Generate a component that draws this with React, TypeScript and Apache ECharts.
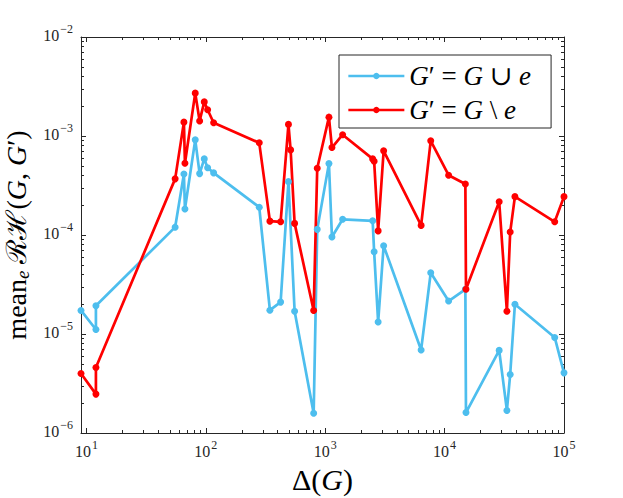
import { useEffect, useRef } from "react";
import * as echarts from "echarts";

// Δ(G) values (shared x positions)
const deltaG = [
  9, 12, 12, 55.3, 65.5, 66.8, 81.5, 88.7, 97, 103.5, 116.2,
  280, 344, 423, 492, 513, 554,
  800, 857, 1074, 1138, 1399,
  2496, 2568, 2775, 3085,
  6357, 7650, 10800, 14920, 15100,
  28640, 33240, 35420, 38800,
  83600, 100000,
];

// mean_e RH(G, G') for G' = G ∪ e (null = no visible point)
const rhUnion = [
  1.73e-5, 1.11e-5, 1.93e-5, 1.2e-4, 4.14e-4, 1.83e-4, 9.14e-4, 4.17e-4, 5.87e-4, 4.77e-4, 4.24e-4,
  1.91e-4, 1.74e-5, 2.1e-5, 3.46e-4, null, 1.7e-5,
  1.58e-6, 1.14e-4, 5.26e-4, 9.55e-5, 1.44e-4,
  1.39e-4, 6.78e-5, 1.32e-5, 7.8e-5,
  6.9e-6, 4.16e-5, 2.15e-5, 2.83e-5, 1.61e-6,
  6.83e-6, 1.69e-6, 3.9e-6, 2.0e-5,
  9.23e-6, 4.05e-6,
];

// mean_e RH(G, G') for G' = G \ e
const rhMinus = [
  3.99e-6, 2.47e-6, 4.59e-6, 3.69e-4, 1.38e-3, 5.31e-4, 2.71e-3, 1.42e-3, 2.21e-3, 1.84e-3, 1.36e-3,
  8.53e-4, 1.38e-4, 1.36e-4, 1.31e-3, 7.24e-4, 1.31e-4,
  1.73e-5, 4.73e-4, 1.55e-3, 7.64e-4, 1.03e-3,
  5.87e-4, 5.57e-4, 1.1e-4, 7.08e-4,
  1.25e-4, 8.93e-4, 4.02e-4, 3.28e-4, 2.83e-5,
  2.17e-4, 1.7e-5, 1.07e-4, 2.44e-4,
  1.36e-4, 2.44e-4,
];

const seriesNames = ["G′ = G ∪ e", "G′ = G \\ e"];
const xTickExponents = [1, 2, 3, 4, 5];
const yTickExponents = [-6, -5, -4, -3, -2];
const minorMultipliers = [2, 3, 4, 5, 6, 7, 8, 9];
const xRange = [9, 100000];
const yRange = [1e-6, 1e-2];

const FONT = "'Liberation Serif', 'DejaVu Serif', serif";
const AXIS_COLOR = "#262626";
const BLUE = "#4DBEEE";
const RED = "#FF0000";

function minorLogValues(range: number[]) {
  const out: number[] = [];
  const k0 = Math.floor(Math.log10(range[0]));
  const k1 = Math.ceil(Math.log10(range[1]));
  for (let k = k0; k <= k1; k++) {
    for (const m of minorMultipliers) {
      const v = m * Math.pow(10, k);
      if (v >= range[0] - 1e-12 && v <= range[1] + 1e-12) out.push(Math.log10(v));
    }
  }
  return out;
}

function powLabel(exps: number[]) {
  return (v: number) => {
    const e = Math.log10(v);
    const r = Math.round(e);
    if (Math.abs(e - r) > 1e-6 || exps.indexOf(r) < 0) return "";
    return `{b|10}{s|${r < 0 ? "\u2212" + -r : r}}`;
  };
}

const tickRich = {
  b: { fontFamily: FONT, fontSize: 16, lineHeight: 16, color: AXIS_COLOR, verticalAlign: "bottom" },
  s: { fontFamily: FONT, fontSize: 12, lineHeight: 12, padding: [0, 0, 8, 1], color: AXIS_COLOR, verticalAlign: "bottom" },
};

const titleRich = {
  r: { fontFamily: FONT, fontSize: 28, lineHeight: 30, color: "#000", verticalAlign: "bottom", padding: [0, 0, 2, 0] },
  i: { fontFamily: FONT, fontSize: 28, lineHeight: 30, color: "#000", fontStyle: "italic", verticalAlign: "bottom", padding: [0, 0, 2, 0] },
  sub: { fontFamily: FONT, fontSize: 19, lineHeight: 19, color: "#000", fontStyle: "italic", verticalAlign: "bottom" },
};

const xTitleRich = {
  r: { fontFamily: FONT, fontSize: 30, lineHeight: 32, color: "#000" },
  i: { fontFamily: FONT, fontSize: 30, lineHeight: 32, color: "#000", fontStyle: "italic" },
};

export default function App() {
  const ref = useRef<HTMLDivElement>(null);

  useEffect(() => {
    if (!ref.current) return;
    const chart = echarts.init(ref.current, null, { renderer: "svg" });

    const majorTick = { show: true, inside: true, length: 5, lineStyle: { color: AXIS_COLOR, width: 1 } };
    const lineOn = { show: true, onZero: false, lineStyle: { color: AXIS_COLOR, width: 1 } };
    const hidden = { show: false };

    const xLogBase = {
      type: "log", logBase: 10, min: xRange[0], max: xRange[1],
      splitLine: hidden, axisLine: lineOn, axisTick: majorTick,
    };
    const yLogBase = {
      type: "log", logBase: 10, min: yRange[0], max: yRange[1],
      splitLine: hidden, axisLine: lineOn, axisTick: majorTick,
    };
    const xMinor = minorLogValues(xRange);
    const yMinor = minorLogValues(yRange);
    const minorTick = (vals: number[]) => ({
      show: true, inside: true, length: 3, customValues: vals, lineStyle: { color: AXIS_COLOR, width: 1 },
    });
    const xMinorAxis = (pos: string) => ({
      type: "value", position: pos, min: Math.log10(xRange[0]), max: Math.log10(xRange[1]),
      axisLine: { show: false, onZero: false }, axisLabel: hidden, splitLine: hidden, axisTick: minorTick(xMinor),
    });
    const yMinorAxis = (pos: string) => ({
      type: "value", position: pos, min: Math.log10(yRange[0]), max: Math.log10(yRange[1]),
      axisLine: { show: false, onZero: false }, axisLabel: hidden, splitLine: hidden, axisTick: minorTick(yMinor),
    });

    const option: any = {
      animation: false,
      backgroundColor: "#fff",
      grid: { left: 81, right: 59, top: 37, bottom: 65, containLabel: false, outerBoundsMode: "none" },
      legend: {
        orient: "vertical",
        left: 339,
        top: 55,
        backgroundColor: "#fff",
        borderColor: AXIS_COLOR,
        borderWidth: 1,
        borderRadius: 0,
        padding: [7, 20, 4, 8],
        itemGap: 6,
        itemWidth: 56,
        itemHeight: 8,
        lineStyle: { width: 2.7 },
        data: seriesNames,
        formatter: (name: string) =>
          name === seriesNames[0]
            ? "{i|G}{r|′ = }{i|G}{r| ∪ }{i|e}"
            : "{i|G}{r|′ = }{i|G}{r| \\ }{i|e}",
        textStyle: {
          fontFamily: FONT, fontSize: 27, color: "#000", lineHeight: 28,
          rich: {
            i: { fontFamily: FONT, fontSize: 27, lineHeight: 28, fontStyle: "italic", color: "#000" },
            r: { fontFamily: FONT, fontSize: 27, lineHeight: 28, color: "#000" },
          },
        },
      },
      xAxis: [
        {
          ...xLogBase,
          position: "bottom",
          axisLabel: {
            show: true, margin: 10, showMinLabel: false, formatter: powLabel(xTickExponents), rich: tickRich,
          },
          name: "{r|Δ(}{i|G}{r|)}",
          nameLocation: "middle",
          nameGap: 30,
          nameTextStyle: { rich: xTitleRich },
        },
        { ...xLogBase, position: "top", axisLabel: hidden },
        xMinorAxis("bottom"),
        xMinorAxis("top"),
      ],
      yAxis: [
        {
          ...yLogBase,
          position: "left",
          axisLabel: {
            show: true, margin: 8, padding: [0, 0, 4, 0], formatter: powLabel(yTickExponents), rich: tickRich,
          },
          name: "{r|mean}{sub|e}{r| ℛℋ(}{i|G}{r|, }{i|G}{r|′)}",
          nameLocation: "middle",
          nameGap: 47,
          nameTextStyle: { rich: titleRich },
        },
        { ...yLogBase, position: "right", axisLabel: hidden },
        yMinorAxis("left"),
        yMinorAxis("right"),
      ],
      series: [
        {
          type: "line",
          name: seriesNames[0],
          xAxisIndex: 0,
          yAxisIndex: 0,
          data: deltaG.map((x, i) => [x, rhUnion[i]]).filter((d) => d[1] != null),
          symbol: "circle",
          symbolSize: 7,
          clip: false,
          lineStyle: { color: BLUE, width: 2.7 },
          itemStyle: { color: BLUE },
          emphasis: { disabled: true },
        },
        {
          type: "line",
          name: seriesNames[1],
          xAxisIndex: 0,
          yAxisIndex: 0,
          data: deltaG.map((x, i) => [x, rhMinus[i]]),
          symbol: "circle",
          symbolSize: 7,
          clip: false,
          lineStyle: { color: RED, width: 2.7 },
          itemStyle: { color: RED },
          emphasis: { disabled: true },
        },
      ],
    };

    chart.setOption(option);
    return () => chart.dispose();
  }, []);

  return (
    <div
      ref={ref}
      style={{ position: "fixed", left: 0, top: 0, width: 623, height: 498, background: "#fff" }}
    />
  );
}
